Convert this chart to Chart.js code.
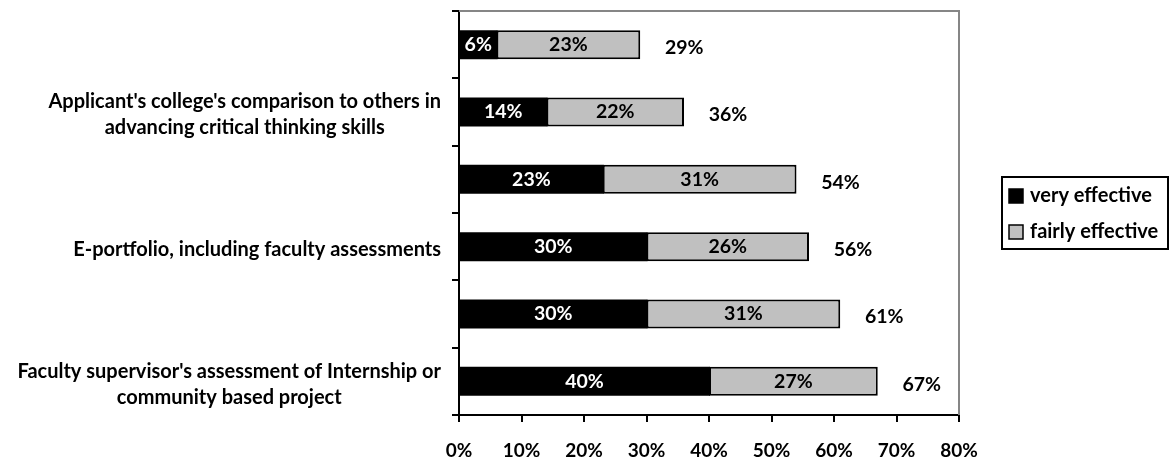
<!DOCTYPE html>
<html>
<head>
<meta charset="utf-8">
<script src="https://cdn.jsdelivr.net/npm/chart.js@4"></script>
<style>
  html, body { margin: 0; padding: 0; background: #fff; }
  #wrap { position: relative; width: 1169px; height: 460px; }
</style>
</head>
<body>
<div id="wrap"><canvas id="chart"></canvas></div>
<script>
// categories top to bottom (Excel skipped every other label)
const categories = [
    '',
    ["Applicant's college's comparison to others in", 'advancing critical thinking skills'],
    '',
    'E-portfolio, including faculty assessments',
    '',
    ["Faculty supervisor's assessment of Internship or", 'community based project']
];
const seriesNames = ['very effective', 'fairly effective'];
const veryEffective = [6, 14, 23, 30, 30, 40];
const fairlyEffective = [23, 22, 31, 26, 31, 27];
const xMax = 80;
const xStep = 10;

const totals = veryEffective.map((v, i) => v + fairlyEffective[i]);
const FONT = 'Lato, Carlito, "Open Sans", sans-serif';

// segment values + totals to the right of each bar
const barLabels = {
    id: 'barLabels',
    afterDatasetsDraw(chart) {
        const ctx = chart.ctx;
        ctx.save();
        ctx.font = 'bold 19.5px ' + FONT;
        ctx.textAlign = 'center';
        ctx.textBaseline = 'middle';
        chart.data.datasets.forEach((ds, di) => {
            chart.getDatasetMeta(di).data.forEach((bar, i) => {
                const p = bar.getProps(['x', 'y', 'base'], true);
                ctx.fillStyle = di === 0 ? '#ffffff' : '#000000';
                ctx.fillText(ds.data[i] + '%', (p.x + p.base) / 2, p.y);
            });
        });
        ctx.fillStyle = '#000000';
        chart.getDatasetMeta(1).data.forEach((bar, i) => {
            ctx.fillText(totals[i] + '%', bar.x + 44, bar.y + 3);
        });
        ctx.restore();
    }
};

// category labels: each block right-aligned, lines centred inside the block (Excel style)
const categoryLabels = {
    id: 'categoryLabels',
    afterDraw(chart) {
        const ctx = chart.ctx;
        const yScale = chart.scales.y;
        const rightEdge = yScale.right - 18;
        const lineH = 26;
        ctx.save();
        ctx.font = 'bold 20px ' + FONT;
        ctx.fillStyle = '#000000';
        ctx.textAlign = 'center';
        ctx.textBaseline = 'middle';
        categories.forEach((cat, i) => {
            const lines = Array.isArray(cat) ? cat : [cat];
            if (!lines[0]) return;
            const widest = Math.max(...lines.map(l => ctx.measureText(l).width));
            const cx = rightEdge - widest / 2;
            const cy = yScale.getPixelForValue(i) + 3;
            const y0 = cy - (lines.length - 1) * lineH / 2;
            lines.forEach((l, k) => ctx.fillText(l, cx, y0 + k * lineH));
        });
        ctx.restore();
    }
};

// gray plot-area border on top and right
const plotFrame = {
    id: 'plotFrame',
    beforeDatasetsDraw(chart) {
        const { ctx, chartArea: a } = chart;
        ctx.save();
        ctx.strokeStyle = '#868686';
        ctx.lineWidth = 2;
        ctx.beginPath();
        ctx.moveTo(a.left, a.top);
        ctx.lineTo(a.right, a.top);
        ctx.lineTo(a.right, a.bottom);
        ctx.stroke();
        ctx.restore();
    }
};

// boxed legend at the right
const boxLegend = {
    id: 'boxLegend',
    afterDraw(chart) {
        const ctx = chart.ctx;
        const left = 1002, top = 177, w = 166, h = 72;
        ctx.save();
        ctx.fillStyle = '#ffffff';
        ctx.fillRect(left, top, w, h);
        ctx.strokeStyle = '#000000';
        ctx.lineWidth = 2;
        ctx.strokeRect(left, top, w, h);
        ctx.font = 'bold 20px ' + FONT;
        ctx.textBaseline = 'middle';
        ctx.textAlign = 'left';
        chart.data.datasets.forEach((ds, i) => {
            const cy = top + 19 + i * 36;
            ctx.fillStyle = ds.backgroundColor;
            ctx.fillRect(1009, cy - 7, 14, 14);
            ctx.lineWidth = 1.5;
            ctx.strokeStyle = '#000000';
            ctx.strokeRect(1009, cy - 7, 14, 14);
            ctx.fillStyle = '#000000';
            ctx.fillText(ds.label, 1030, cy);
        });
        ctx.restore();
    }
};

function draw() {
    const ctx = document.getElementById('chart').getContext('2d');
    new Chart(ctx, {
        type: 'bar',
        data: {
            labels: categories,
            datasets: [
                {
                    label: seriesNames[0],
                    data: veryEffective,
                    backgroundColor: '#000000',
                    borderColor: '#000000',
                    borderWidth: 0,
                    inflateAmount: 1,
                    barPercentage: 0.40
                },
                {
                    label: seriesNames[1],
                    data: fairlyEffective,
                    backgroundColor: '#c0c0c0',
                    borderColor: '#000000',
                    borderWidth: 2,
                    borderSkipped: false,
                    barPercentage: 0.43
                }
            ]
        },
        options: {
            indexAxis: 'y',
            responsive: true,
            maintainAspectRatio: false,
            animation: false,
            layout: { padding: { top: 11, right: 210, left: 0, bottom: 0 } },
            datasets: { bar: { categoryPercentage: 1 } },
            plugins: {
                legend: { display: false },
                tooltip: { enabled: false }
            },
            scales: {
                x: {
                    stacked: true,
                    min: 0,
                    max: xMax,
                    afterFit: (s) => { s.height = 45; s.paddingLeft = 0; s.paddingRight = 0; },
                    grid: { drawOnChartArea: false, drawTicks: true, tickLength: 7, color: '#000000', lineWidth: 2 },
                    border: { color: '#000000', width: 2 },
                    ticks: {
                        stepSize: xStep,
                        color: '#000000',
                        padding: 17,
                        font: { family: FONT, size: 19, weight: 'bold' },
                        callback: (v) => v + '%'
                    }
                },
                y: {
                    stacked: true,
                    afterFit: (s) => { s.width = 459; s.paddingTop = 0; s.paddingBottom = 0; },
                    grid: { drawOnChartArea: false, drawTicks: true, tickLength: 7, color: '#000000', lineWidth: 2, offset: true },
                    border: { color: '#000000', width: 2 },
                    ticks: { display: false, autoSkip: false }
                }
            }
        },
        plugins: [plotFrame, barLabels, categoryLabels, boxLegend]
    });
}

if (document.fonts && document.fonts.load) {
    Promise.all([
        document.fonts.load('bold 16px Lato'),
        document.fonts.load('bold 20px Lato')
    ]).then(draw, draw);
} else {
    draw();
}
</script>
</body>
</html>
